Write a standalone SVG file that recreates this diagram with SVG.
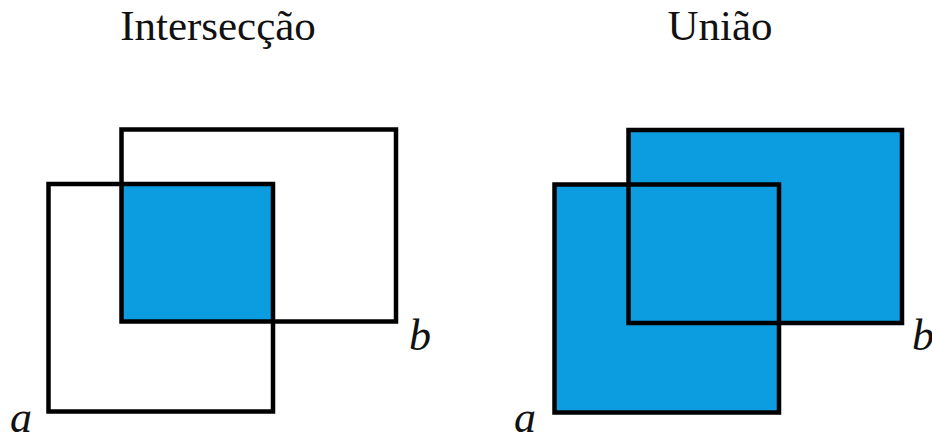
<svg xmlns="http://www.w3.org/2000/svg" width="932" height="437" viewBox="0 0 932 437">
<style>
.t{font-family:"Liberation Serif","Times New Roman",serif;font-size:43px;fill:#111;}
.l{font-family:"Liberation Serif","Times New Roman",serif;font-size:44px;font-style:italic;fill:#111;}
.o{fill:none;stroke:#000;stroke-width:4.5;}
.f{fill:#0B9DDF;stroke:none;}
</style>
<rect width="932" height="437" fill="#fff"/>
<g id="titles">
<text class="t" x="218" y="40" text-anchor="middle">Intersecção</text>
<text class="t" x="720" y="40" text-anchor="middle">União</text>
</g>
<g id="intersection">
<rect class="f" x="121.5" y="184" width="151.5" height="137.5"/>
<rect id="int-b" class="o" x="121.5" y="129.5" width="274.5" height="192"/>
<rect id="int-a" class="o" x="48.5" y="184" width="224.5" height="227.5"/>
<text class="l" x="409" y="350">b</text>
<text class="l" x="10" y="432">a</text>
</g>
<g id="union">
<rect class="f" x="628.5" y="130" width="273.5" height="193"/>
<rect class="f" x="554.5" y="184.5" width="224.5" height="228"/>
<rect id="uni-b" class="o" x="628.5" y="130" width="273.5" height="193"/>
<rect id="uni-a" class="o" x="554.5" y="184.5" width="224.5" height="228"/>
<text class="l" x="912" y="350">b</text>
<text class="l" x="514" y="432">a</text>
</g>
<g id="connectors"/>
</svg>
